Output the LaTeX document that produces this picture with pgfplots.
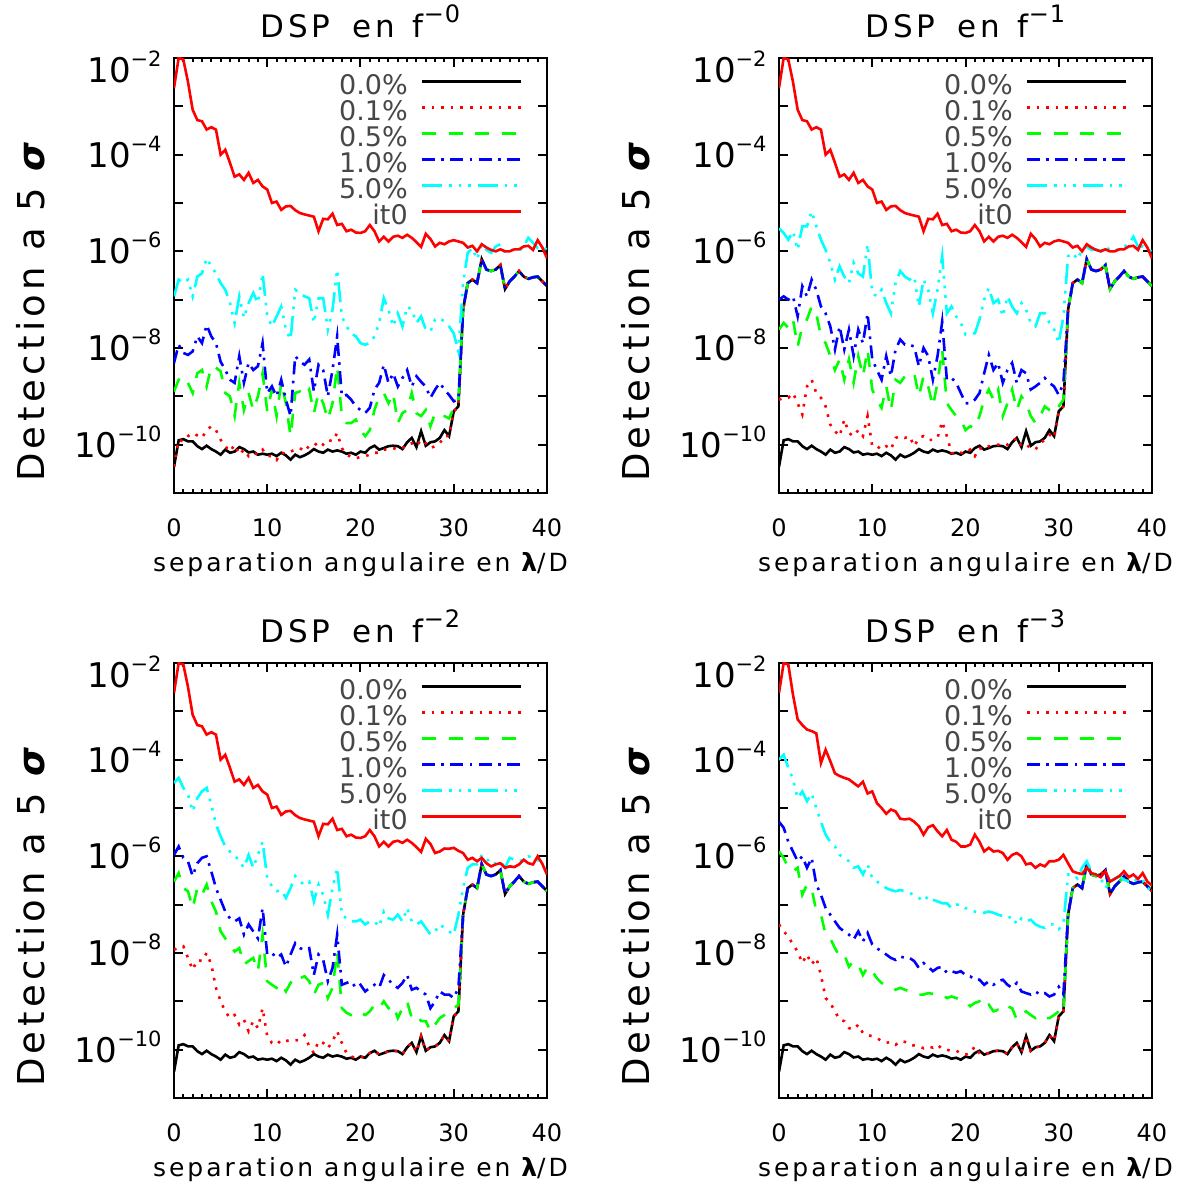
\documentclass[border=0pt]{standalone}
\usepackage{fontspec}
\setmainfont{DejaVu Sans}
\newfontfamily\lblfont{DejaVu Sans}[LetterSpace=12]
\usepackage{pgfplots}
\pgfplotsset{compat=1.18}
\usepackage{pgfplotstable}
\definecolor{idlcyan}{RGB}{0,255,255}
\definecolor{idlgreen}{RGB}{0,255,0}

\newcommand{\ylab}[1]{10\raisebox{8pt}{\fontsize{10.5}{12}\selectfont −#1}}
\newcommand{\dsp}[1]{DSP\hspace{11pt}en\hspace{9pt}f\raisebox{7.5pt}{\fontsize{12}{13}\selectfont −\hspace{0.5pt}#1}}

\pgfplotstableread{
x k r
0 3.5e-11 2.4e-3
0.5 1.23e-10 1.0e-2
1 1.3e-10 9.3e-3
1.5 1.17e-10 3.2e-3
2 1.17e-10 8.5e-4
2.5 9.3e-11 5.2e-4
3 8.1e-11 4.9e-4
3.5 9.5e-11 3.3e-4
4 8.1e-11 3.7e-4
4.5 7.2e-11 3.3e-4
5 6.2e-11 1.0e-4
5.5 7.9e-11 1.26e-4
6 6.8e-11 6.8e-5
6.5 7.2e-11 3.5e-5
7 8.9e-11 3.9e-5
7.5 8.1e-11 3.0e-5
8 6.9e-11 4.2e-5
8.5 7.2e-11 2.6e-5
9 6.2e-11 3.0e-5
9.5 6.5e-11 2.2e-5
10 6.2e-11 1.9e-5
10.5 6.5e-11 1.0e-5
11 5.8e-11 1.07e-5
11.5 6.8e-11 7.2e-6
12 6.0e-11 8.5e-6
12.5 4.9e-11 8.7e-6
13 6.2e-11 7.1e-6
13.5 5.5e-11 6.2e-6
14 6.0e-11 5.8e-6
14.5 6.8e-11 5.5e-6
15 8.1e-11 5.2e-6
15.5 7.2e-11 2.6e-6
16 6.8e-11 4.7e-6
16.5 7.9e-11 4.6e-6
17 7.2e-11 6.0e-6
17.5 7.6e-11 3.5e-6
18 7.2e-11 3.7e-6
18.5 6.5e-11 2.6e-6
19 6.8e-11 2.8e-6
19.5 6.2e-11 2.45e-6
20 7.2e-11 2.4e-6
20.5 6.8e-11 2.6e-6
21 8.5e-11 3.5e-6
21.5 9.5e-11 2.6e-6
22 7.9e-11 1.6e-6
22.5 8.5e-11 2.0e-6
23 9.3e-11 1.6e-6
23.5 9.5e-11 2.0e-6
24 9.3e-11 2.1e-6
24.5 8.1e-11 1.9e-6
25 1.12e-10 2.2e-6
25.5 1.38e-10 1.9e-6
26 8.9e-11 1.55e-6
26.5 1.9e-10 1.23e-6
27 9.5e-11 2.3e-6
27.5 1.12e-10 1.8e-6
28 1.17e-10 1.26e-6
28.5 1.38e-10 1.5e-6
29 2.0e-10 1.4e-6
29.5 1.5e-10 1.6e-6
30 4.9e-10 1.7e-6
30.5 6.2e-10 1.6e-6
31 6.2e-8 1.5e-6
31.5 2.2e-7 1.2e-6
32 2.6e-7 1.3e-6
32.5 2.2e-7 1.0e-6
33 6.9e-7 1.4e-6
33.5 4.2e-7 1.2e-6
34 3.9e-7 1.07e-6
34.5 4.2e-7 1.0e-6
35 5.2e-7 1.1e-6
35.5 1.66e-7 1.0e-6
36 2.4e-7 1.0e-6
36.5 3.0e-7 1.1e-6
37 3.9e-7 1.1e-6
37.5 3.0e-7 1.26e-6
38 2.7e-7 1.3e-6
38.5 2.9e-7 1.07e-6
39 3.0e-7 1.7e-6
39.5 2.4e-7 1.2e-6
40 1.9e-7 7.2e-7
}\tcommon

\pgfplotstableread{
x a b c d
0 3.5e-11 1.26e-9 4.9e-9 1.17e-7
0.5 1.26e-10 2.2e-9 1.17e-8 2.6e-7
1 1.17e-10 2.6e-9 7.9e-9 2.2e-7
1.5 1.5e-10 1.9e-9 7.2e-9 2.6e-7
2 1.74e-10 1.17e-9 8.5e-9 1.17e-7
2.5 1.55e-10 3.0e-9 1.74e-8 3.0e-7
3 1.38e-10 3.5e-9 1.26e-8 3.5e-7
3.5 2.0e-10 1.6e-9 3.0e-8 7.2e-7
4 2.4e-10 4.2e-9 1.74e-8 4.9e-7
4.5 2.0e-10 3.9e-9 1.26e-8 3.5e-7
5 1.26e-10 3.3e-9 5.2e-9 2.2e-7
5.5 9.3e-11 1.17e-9 3.5e-9 1.6e-7
6 7.2e-11 1.0e-9 2.2e-9 8.5e-8
6.5 1.0e-10 3.9e-10 1.9e-9 3.3e-8
7 6.2e-11 1.9e-9 6.8e-9 1.17e-7
7.5 7.9e-11 5.2e-10 1.9e-9 4.2e-8
8 5.8e-11 1.17e-9 4.9e-9 8.5e-8
8.5 6.8e-11 5.2e-10 3.5e-9 1.38e-7
9 6.2e-11 1.0e-9 4.2e-9 8.5e-8
9.5 7.9e-11 3.0e-9 1.26e-8 3.5e-7
10 5.8e-11 4.9e-10 1.17e-9 4.5e-8
10.5 5.8e-11 1.38e-9 1.6e-9 2.8e-8
11 4.8e-11 3.9e-10 1.0e-9 4.5e-8
11.5 6.8e-11 1.9e-9 2.2e-9 7.2e-8
12 6.5e-11 7.2e-10 8.5e-10 2.4e-8
12.5 7.2e-11 1.5e-10 3.9e-10 1.5e-8
13 7.9e-11 1.17e-9 6.8e-9 1.6e-7
13.5 8.5e-11 1.26e-9 5.2e-9 1.38e-7
14 7.2e-11 1.0e-9 4.5e-9 1.17e-7
14.5 9.5e-11 1.38e-9 5.8e-9 1.07e-7
15 9.3e-11 4.5e-10 1.26e-9 3.3e-8
15.5 1.17e-10 1.17e-9 4.5e-9 1.07e-7
16 1.0e-10 7.2e-10 3.5e-9 1.07e-7
16.5 1.26e-10 3.3e-10 1.0e-9 2.4e-8
17 1.17e-10 7.2e-10 3.5e-9 6.2e-8
17.5 1.74e-10 4.2e-9 1.74e-8 4.2e-7
18 8.5e-11 3.9e-10 1.0e-9 4.5e-8
18.5 6.2e-11 2.8e-10 1.07e-9 2.8e-8
19 5.6e-11 2.8e-10 8.5e-10 2.0e-8
19.5 5.2e-11 3.3e-10 6.2e-10 1.74e-8
20 5.6e-11 2.0e-10 5.2e-10 1.26e-8
20.5 5.8e-11 1.5e-10 4.5e-10 1.17e-8
21 6.2e-11 2.0e-10 5.8e-10 1.26e-8
21.5 6.8e-11 5.2e-10 1.38e-9 1.74e-8
22 6.8e-11 1.0e-9 1.9e-9 3.3e-8
22.5 7.9e-11 1.17e-9 4.5e-9 1.07e-7
23 7.9e-11 7.2e-10 1.9e-9 6.2e-8
23.5 8.5e-11 1.17e-9 3.0e-9 2.8e-8
24 7.9e-11 2.8e-10 1.6e-9 5.2e-8
24.5 8.5e-11 4.5e-10 2.4e-9 2.8e-8
25 1.0e-10 5.2e-10 3.5e-9 7.2e-8
25.5 1.07e-10 1.17e-9 1.6e-9 6.2e-8
26 9.3e-11 4.5e-10 2.6e-9 3.3e-8
26.5 1.26e-10 3.9e-10 2.0e-9 4.5e-8
27 1.07e-10 5.2e-10 1.6e-9 2.4e-8
27.5 8.5e-11 2.4e-10 9.3e-10 2.2e-8
28 9.3e-11 4.5e-10 1.38e-9 3.9e-8
28.5 1.07e-10 4.2e-10 1.9e-9 4.2e-8
29 1.5e-10 3.9e-10 1.38e-9 3.5e-8
29.5 1.5e-10 3.5e-10 1.07e-9 2.8e-8
30 4.9e-10 5.8e-10 7.9e-10 2.0e-8
30.5 6.2e-10 7.9e-10 8.5e-10 8.5e-9
31 6.2e-8 6.2e-8 6.2e-8 2.2e-7
31.5 2.2e-7 2.2e-7 2.2e-7 9.3e-7
32 2.6e-7 2.6e-7 2.6e-7 1.17e-6
32.5 2.2e-7 2.2e-7 2.2e-7 6.8e-7
33 6.9e-7 6.9e-7 6.9e-7 1.4e-6
33.5 4.2e-7 4.2e-7 4.2e-7 1.07e-6
34 3.9e-7 3.9e-7 3.9e-7 9.3e-7
34.5 4.2e-7 4.2e-7 4.2e-7 1.26e-6
35 5.2e-7 5.2e-7 5.2e-7 1.4e-6
35.5 1.66e-7 1.66e-7 1.66e-7 9.3e-7
36 2.4e-7 2.4e-7 2.4e-7 1.07e-6
36.5 3.0e-7 3.0e-7 3.0e-7 1.07e-6
37 3.9e-7 3.9e-7 3.9e-7 1.0e-6
37.5 3.0e-7 3.0e-7 3.0e-7 1.26e-6
38 2.7e-7 2.7e-7 2.7e-7 1.9e-6
38.5 2.9e-7 2.9e-7 2.9e-7 1.5e-6
39 3.0e-7 3.0e-7 3.0e-7 1.17e-6
39.5 2.4e-7 2.4e-7 2.4e-7 1.26e-6
40 1.9e-7 1.9e-7 1.9e-7 1.07e-6
}\tpone

\pgfplotstableread{
x a b c d
0 8.5e-10 2.4e-8 1.0e-7 3.0e-6
0.5 9.3e-10 3.3e-8 1.17e-7 2.4e-6
1 9.3e-10 2.6e-8 1.0e-7 1.74e-6
1.5 1.17e-9 3.9e-8 1.17e-7 2.6e-6
2 7.2e-10 1.07e-8 4.5e-8 1.07e-6
2.5 4.2e-10 2.8e-8 1.9e-7 3.3e-6
3 1.6e-9 3.9e-8 1.17e-7 3.3e-6
3.5 2.2e-9 7.2e-8 2.6e-7 6.7e-6
4 1.17e-9 5.2e-8 1.6e-7 3.3e-6
4.5 9.3e-10 1.74e-8 7.2e-8 1.74e-6
5 6.2e-10 1.26e-8 5.2e-8 1.07e-6
5.5 2.6e-10 6.8e-9 2.8e-8 5.8e-7
6 1.9e-10 3.5e-9 9.3e-9 2.6e-7
6.5 1.5e-10 5.8e-9 2.8e-8 4.9e-7
7 3.3e-10 2.2e-9 9.3e-9 3.0e-7
7.5 1.74e-10 5.8e-9 2.4e-8 2.2e-7
8 1.5e-10 1.9e-9 6.8e-9 5.8e-7
8.5 2.0e-10 6.8e-9 2.4e-8 3.5e-7
9 1.5e-10 2.6e-9 1.26e-8 3.0e-7
9.5 3.9e-10 9.3e-9 5.2e-8 1.4e-6
10 9.3e-11 1.38e-9 5.8e-9 1.38e-7
10.5 9.3e-11 8.5e-10 3.5e-9 1.17e-7
11 7.9e-11 5.8e-10 2.2e-9 1.6e-7
11.5 9.3e-11 1.6e-9 6.8e-9 8.5e-8
12 7.9e-11 5.2e-10 2.6e-9 5.2e-8
12.5 1.38e-10 2.2e-9 9.3e-9 2.2e-7
13 1.5e-10 1.9e-9 1.5e-8 3.9e-7
13.5 1.38e-10 2.6e-9 1.17e-8 3.0e-7
14 1.5e-10 3.0e-9 1.17e-8 2.6e-7
14.5 9.3e-11 3.0e-9 1.07e-8 3.0e-7
15 1.38e-10 1.0e-9 4.2e-9 7.2e-8
15.5 1.5e-10 2.6e-9 1.0e-8 2.6e-7
16 1.26e-10 1.6e-9 6.8e-9 1.6e-7
16.5 1.26e-10 6.2e-10 2.2e-9 5.2e-8
17 1.38e-10 1.9e-9 6.8e-9 1.6e-7
17.5 3.0e-10 9.3e-9 3.5e-8 7.9e-7
18 1.5e-10 7.2e-10 2.2e-9 5.2e-8
18.5 6.8e-11 5.2e-10 2.4e-9 7.2e-8
19 6.2e-11 3.9e-10 1.9e-9 4.5e-8
19.5 6.8e-11 3.3e-10 1.17e-9 3.3e-8
20 6.5e-11 2.0e-10 7.2e-10 1.9e-8
20.5 7.9e-11 2.4e-10 7.2e-10 2.0e-8
21 5.8e-11 2.2e-10 8.5e-10 2.0e-8
21.5 8.5e-11 3.9e-10 1.17e-9 3.9e-8
22 7.9e-11 8.5e-10 3.0e-9 1.0e-7
22.5 9.3e-11 1.38e-9 7.2e-9 1.74e-7
23 9.3e-11 8.5e-10 3.5e-9 8.5e-8
23.5 1.0e-10 1.38e-9 4.9e-9 1.0e-7
24 9.3e-11 3.9e-10 1.9e-9 4.5e-8
24.5 1.0e-10 7.2e-10 3.5e-9 1.17e-7
25 1.17e-10 1.38e-9 4.9e-9 7.2e-8
25.5 1.38e-10 5.2e-10 1.9e-9 5.2e-8
26 9.3e-11 1.0e-9 3.5e-9 8.5e-8
26.5 1.0e-10 7.2e-10 3.0e-9 6.2e-8
27 8.5e-11 3.9e-10 1.38e-9 3.3e-8
27.5 7.9e-11 2.8e-10 1.6e-9 2.8e-8
28 1.07e-10 3.9e-10 1.9e-9 5.2e-8
28.5 1.26e-10 6.2e-10 2.4e-9 5.2e-8
29 1.6e-10 5.2e-10 1.9e-9 3.3e-8
29.5 1.38e-10 4.5e-10 1.6e-9 2.4e-8
30 4.9e-10 6.2e-10 1.07e-9 1.26e-8
30.5 6.2e-10 8.5e-10 1.9e-9 4.5e-8
31 6.2e-8 6.2e-8 6.2e-8 7.9e-7
31.5 2.2e-7 2.2e-7 2.2e-7 9.3e-7
32 2.6e-7 2.6e-7 2.6e-7 6.8e-7
32.5 2.2e-7 2.2e-7 2.2e-7 1.07e-6
33 6.9e-7 6.9e-7 6.9e-7 1.26e-6
33.5 4.2e-7 4.2e-7 4.2e-7 1.07e-6
34 3.9e-7 3.9e-7 3.9e-7 1.1e-6
34.5 4.2e-7 4.2e-7 4.2e-7 1.0e-6
35 5.2e-7 5.2e-7 5.2e-7 1.26e-6
35.5 1.66e-7 1.66e-7 1.66e-7 1.07e-6
36 2.4e-7 2.4e-7 2.4e-7 1.0e-6
36.5 3.0e-7 3.0e-7 3.0e-7 1.17e-6
37 3.9e-7 3.9e-7 3.9e-7 1.26e-6
37.5 3.0e-7 3.0e-7 3.0e-7 1.4e-6
38 2.7e-7 2.7e-7 2.7e-7 2.0e-6
38.5 2.9e-7 2.9e-7 2.9e-7 1.26e-6
39 3.0e-7 3.0e-7 3.0e-7 1.26e-6
39.5 2.4e-7 2.4e-7 2.4e-7 1.07e-6
40 1.9e-7 1.9e-7 1.9e-7 1.0e-6
}\tptwo

\pgfplotstableread{
x a b c d e
0 1.17e-8 3.0e-7 1.07e-6 3.3e-5 2.4e-3
0.5 1.26e-8 4.5e-7 1.6e-6 4.2e-5 1.0e-2
1 1.38e-8 2.2e-7 9.3e-7 2.6e-5 9.3e-3
1.5 7.9e-9 1.9e-7 7.9e-7 1.9e-5 3.2e-3
2 4.5e-9 8.5e-8 3.9e-7 8.5e-6 8.5e-4
2.5 7.2e-9 2.2e-7 7.2e-7 1.6e-5 5.2e-4
3 6.8e-9 1.6e-7 9.3e-7 2.2e-5 4.9e-4
3.5 1.0e-8 2.6e-7 1.0e-6 2.6e-5 3.3e-4
4 5.8e-9 1.17e-7 4.9e-7 1.17e-5 3.7e-4
4.5 1.9e-9 7.2e-8 2.2e-7 4.6e-6 3.3e-4
5 1.0e-9 2.8e-8 1.26e-7 2.6e-6 1.0e-4
5.5 6.2e-10 2.0e-8 7.2e-8 1.6e-6 1.26e-4
6 4.5e-10 1.5e-8 5.2e-8 1.26e-6 6.8e-5
6.5 5.2e-10 1.07e-8 4.5e-8 1.07e-6 3.5e-5
7 3.3e-10 1.26e-8 5.2e-8 7.9e-7 3.9e-5
7.5 4.2e-10 5.8e-9 2.4e-8 5.8e-7 3.0e-5
8 2.4e-10 6.8e-9 3.9e-8 1.07e-6 4.2e-5
8.5 3.9e-10 7.9e-9 2.8e-8 5.8e-7 2.6e-5
9 2.8e-10 4.2e-9 2.0e-8 1.07e-6 3.0e-5
9.5 7.2e-10 2.4e-8 8.5e-8 2.0e-6 2.2e-5
10 1.9e-10 2.6e-9 9.3e-9 3.5e-7 1.9e-5
10.5 1.38e-10 2.2e-9 1.0e-8 2.4e-7 1.0e-5
11 1.26e-10 1.9e-9 7.9e-9 1.9e-7 1.07e-5
11.5 1.6e-10 2.4e-9 9.3e-9 2.0e-7 7.2e-6
12 1.5e-10 1.6e-9 5.2e-9 1.38e-7 8.5e-6
12.5 1.6e-10 2.4e-9 9.3e-9 2.2e-7 8.7e-6
13 1.55e-10 3.3e-9 1.6e-8 3.9e-7 7.1e-6
13.5 1.6e-10 3.0e-9 1.26e-8 3.0e-7 6.2e-6
14 2.0e-10 3.3e-9 1.17e-8 2.6e-7 5.8e-6
14.5 1.17e-10 2.6e-9 1.26e-8 3.0e-7 5.5e-6
15 8.5e-11 1.38e-9 3.5e-9 1.17e-7 5.2e-6
15.5 1.5e-10 2.2e-9 9.3e-9 2.6e-7 2.6e-6
16 1.38e-10 2.4e-9 7.2e-9 1.6e-7 4.7e-6
16.5 1.07e-10 1.17e-9 2.6e-9 6.2e-8 4.6e-6
17 1.5e-10 1.9e-9 4.9e-9 2.2e-7 6.0e-6
17.5 2.4e-10 1.07e-8 2.4e-8 5.8e-7 3.5e-6
18 1.38e-10 7.2e-10 2.2e-9 6.2e-8 3.7e-6
18.5 8.5e-11 5.8e-10 2.4e-9 5.2e-8 2.6e-6
19 7.2e-11 5.2e-10 2.6e-9 4.5e-8 2.8e-6
19.5 6.8e-11 4.9e-10 1.9e-9 4.5e-8 2.45e-6
20 7.2e-11 5.8e-10 2.2e-9 4.9e-8 2.4e-6
20.5 6.8e-11 5.2e-10 1.6e-9 3.9e-8 2.6e-6
21 8.5e-11 6.2e-10 1.9e-9 4.5e-8 3.5e-6
21.5 9.5e-11 8.5e-10 2.2e-9 4.5e-8 2.6e-6
22 7.9e-11 7.2e-10 1.9e-9 3.5e-8 1.6e-6
22.5 8.5e-11 1.0e-9 3.5e-9 7.2e-8 2.0e-6
23 9.3e-11 7.2e-10 2.8e-9 5.2e-8 1.6e-6
23.5 9.5e-11 8.5e-10 2.2e-9 4.9e-8 2.0e-6
24 9.3e-11 4.5e-10 1.9e-9 6.2e-8 2.1e-6
24.5 8.1e-11 7.2e-10 2.4e-9 4.5e-8 1.9e-6
25 1.12e-10 1.0e-9 3.5e-9 8.5e-8 2.2e-6
25.5 1.38e-10 4.5e-10 1.74e-9 4.5e-8 1.9e-6
26 8.9e-11 5.2e-10 1.9e-9 3.9e-8 1.55e-6
26.5 1.9e-10 3.9e-10 1.6e-9 4.5e-8 1.23e-6
27 9.5e-11 3.9e-10 1.38e-9 3.3e-8 2.3e-6
27.5 1.12e-10 2.4e-10 7.2e-10 2.4e-8 1.8e-6
28 1.17e-10 3.3e-10 1.0e-9 2.8e-8 1.17e-6
28.5 1.38e-10 4.5e-10 1.6e-9 3.9e-8 1.26e-6
29 2.0e-10 5.2e-10 1.38e-9 3.3e-8 1.45e-6
29.5 1.5e-10 6.2e-10 1.38e-9 2.8e-8 1.43e-6
30 4.9e-10 7.2e-10 1.17e-9 2.4e-8 1.5e-6
30.5 6.2e-10 8.5e-10 1.9e-9 6.2e-8 1.3e-6
31 6.2e-8 6.2e-8 6.2e-8 2.2e-7 1.17e-6
31.5 2.2e-7 2.2e-7 2.2e-7 5.8e-7 8.5e-7
32 2.6e-7 2.6e-7 2.6e-7 6.8e-7 9.3e-7
32.5 2.2e-7 2.2e-7 2.2e-7 6.8e-7 7.9e-7
33 6.9e-7 6.9e-7 6.9e-7 1.07e-6 9.3e-7
33.5 4.2e-7 4.2e-7 4.2e-7 9.3e-7 7.2e-7
34 3.9e-7 3.9e-7 3.9e-7 6.8e-7 6.2e-7
34.5 4.2e-7 4.2e-7 4.2e-7 7.2e-7 6.8e-7
35 5.2e-7 5.2e-7 5.2e-7 7.9e-7 7.2e-7
35.5 1.66e-7 1.66e-7 1.66e-7 5.8e-7 5.8e-7
36 2.4e-7 2.4e-7 2.4e-7 9.3e-7 6.2e-7
36.5 3.0e-7 3.0e-7 3.0e-7 8.5e-7 6.0e-7
37 3.9e-7 3.9e-7 3.9e-7 7.9e-7 6.8e-7
37.5 3.0e-7 3.0e-7 3.0e-7 8.5e-7 8.5e-7
38 2.7e-7 2.7e-7 2.7e-7 1.0e-6 7.2e-7
38.5 2.9e-7 2.9e-7 2.9e-7 9.3e-7 6.8e-7
39 3.0e-7 3.0e-7 3.0e-7 8.5e-7 1.0e-6
39.5 2.4e-7 2.4e-7 2.4e-7 6.8e-7 7.0e-7
40 1.9e-7 1.9e-7 1.9e-7 4.5e-7 4.2e-7
}\tpthree

\pgfplotstableread{
x a b c d e
0 3.9e-8 1.26e-6 5.2e-6 1.0e-4 2.4e-3
0.5 2.8e-8 9.3e-7 3.9e-6 1.26e-4 1.0e-2
1 2.2e-8 5.8e-7 2.0e-6 6.8e-5 9.3e-3
1.5 1.5e-8 4.9e-7 1.26e-6 3.9e-5 2.2e-3
2 1.07e-8 5.8e-7 7.9e-7 1.6e-5 6.8e-4
2.5 6.2e-9 1.6e-7 1.0e-6 2.2e-5 5.2e-4
3 9.3e-9 2.6e-7 5.8e-7 1.38e-5 4.2e-4
3.5 5.8e-9 2.2e-7 9.3e-7 2.0e-5 3.9e-4
4 7.9e-9 7.2e-8 2.6e-7 1.0e-5 3.5e-4
4.5 3.5e-9 6.2e-8 1.6e-7 5.2e-6 8.5e-5
5 1.17e-9 2.4e-8 8.5e-8 2.8e-6 1.6e-4
5.5 9.3e-10 2.0e-8 6.2e-8 2.0e-6 9.3e-5
6 6.2e-10 1.26e-8 4.5e-8 1.6e-6 5.2e-5
6.5 4.2e-10 8.5e-9 3.3e-8 1.07e-6 4.6e-5
7 3.9e-10 9.3e-9 2.8e-8 9.3e-7 4.2e-5
7.5 2.8e-10 5.2e-9 2.4e-8 7.9e-7 3.9e-5
8 2.6e-10 6.8e-9 1.9e-8 5.8e-7 3.3e-5
8.5 3.3e-10 5.8e-9 2.8e-8 6.2e-7 2.8e-5
9 2.2e-10 3.5e-9 1.74e-8 4.2e-7 3.5e-5
9.5 2.0e-10 5.2e-9 2.6e-8 6.8e-7 2.0e-5
10 1.9e-10 4.2e-9 1.5e-8 3.5e-7 2.2e-5
10.5 1.74e-10 3.0e-9 1.26e-8 3.0e-7 1.26e-5
11 1.5e-10 2.4e-9 1.07e-8 2.6e-7 1.0e-5
11.5 1.38e-10 2.2e-9 9.3e-9 2.2e-7 7.6e-6
12 1.45e-10 1.9e-9 7.9e-9 2.0e-7 9.3e-6
12.5 1.26e-10 1.74e-9 7.2e-9 1.9e-7 8.5e-6
13 1.5e-10 1.9e-9 8.5e-9 2.0e-7 6.0e-6
13.5 1.45e-10 1.74e-9 7.9e-9 1.9e-7 5.8e-6
14 1.26e-10 1.6e-9 7.9e-9 1.74e-7 6.0e-6
14.5 1.22e-10 1.48e-9 6.8e-9 1.6e-7 5.2e-6
15 1.17e-10 1.38e-9 4.9e-9 1.38e-7 4.2e-6
15.5 1.07e-10 1.38e-9 6.2e-9 1.17e-7 2.8e-6
16 1.17e-10 1.48e-9 5.2e-9 1.5e-7 4.0e-6
16.5 1.1e-10 1.43e-9 4.2e-9 1.26e-7 4.4e-6
17 1.26e-10 1.38e-9 4.9e-9 1.17e-7 3.3e-6
17.5 1.03e-10 1.38e-9 5.2e-9 1.07e-7 2.6e-6
18 1.0e-10 1.17e-9 3.9e-9 1.07e-7 3.5e-6
18.5 9.3e-11 1.26e-9 4.2e-9 8.5e-8 2.2e-6
19 9.5e-11 1.17e-9 3.9e-9 1.0e-7 2.0e-6
19.5 8.5e-11 1.07e-9 4.2e-9 1.0e-7 1.6e-6
20 7.9e-11 1.0e-9 3.5e-9 8.5e-8 1.6e-6
20.5 8.5e-11 7.9e-10 3.3e-9 7.9e-8 1.74e-6
21 1.17e-10 9.3e-10 2.8e-9 7.2e-8 2.8e-6
21.5 8.5e-11 1.0e-9 2.8e-9 6.8e-8 2.0e-6
22 7.9e-11 7.2e-10 2.2e-9 6.8e-8 1.26e-6
22.5 8.5e-11 8.5e-10 2.6e-9 7.2e-8 1.5e-6
23 9.3e-11 6.2e-10 2.2e-9 6.8e-8 1.26e-6
23.5 9.5e-11 6.7e-10 2.6e-9 6.2e-8 1.3e-6
24 9.3e-11 6.2e-10 2.8e-9 5.8e-8 1.17e-6
24.5 8.1e-11 7.9e-10 2.2e-9 5.2e-8 8.5e-7
25 1.12e-10 7.2e-10 1.9e-9 5.8e-8 1.07e-6
25.5 1.38e-10 4.2e-10 2.4e-9 3.9e-8 1.17e-6
26 8.9e-11 5.2e-10 1.6e-9 5.2e-8 1.0e-6
26.5 1.9e-10 6.2e-10 1.48e-9 4.5e-8 6.8e-7
27 9.5e-11 5.2e-10 1.38e-9 4.9e-8 7.2e-7
27.5 1.12e-10 4.5e-10 1.6e-9 3.9e-8 5.8e-7
28 1.17e-10 5.2e-10 1.38e-9 3.5e-8 6.8e-7
28.5 1.38e-10 4.5e-10 1.48e-9 3.3e-8 6.2e-7
29 2.0e-10 4.5e-10 1.26e-9 3.9e-8 7.9e-7
29.5 1.5e-10 5.2e-10 1.38e-9 3.9e-8 7.9e-7
30 4.9e-10 6.2e-10 2.0e-9 3.1e-8 8.5e-7
30.5 6.2e-10 5.5e-10 1.4e-9 4.0e-8 1.07e-6
31 6.2e-8 6.2e-8 6.2e-8 4.2e-7 7.2e-7
31.5 2.2e-7 2.2e-7 2.2e-7 4.2e-7 4.9e-7
32 2.6e-7 2.6e-7 2.6e-7 3.5e-7 4.5e-7
32.5 2.2e-7 2.2e-7 2.2e-7 5.8e-7 4.3e-7
33 6.9e-7 6.9e-7 6.9e-7 7.9e-7 5.8e-7
33.5 4.2e-7 4.2e-7 4.2e-7 4.9e-7 4.5e-7
34 3.9e-7 3.9e-7 3.9e-7 4.2e-7 4.2e-7
34.5 4.2e-7 4.2e-7 4.2e-7 3.5e-7 3.7e-7
35 5.2e-7 5.2e-7 5.2e-7 2.2e-7 4.9e-7
35.5 1.66e-7 1.66e-7 1.66e-7 3.0e-7 3.0e-7
36 2.4e-7 2.4e-7 2.4e-7 3.5e-7 3.4e-7
36.5 3.0e-7 3.0e-7 3.0e-7 3.9e-7 3.9e-7
37 3.9e-7 3.9e-7 3.9e-7 3.3e-7 4.9e-7
37.5 3.0e-7 3.0e-7 3.0e-7 3.0e-7 3.7e-7
38 2.7e-7 2.7e-7 2.7e-7 3.5e-7 4.2e-7
38.5 2.9e-7 2.9e-7 2.9e-7 3.0e-7 3.4e-7
39 3.0e-7 3.0e-7 3.0e-7 3.3e-7 4.5e-7
39.5 2.4e-7 2.4e-7 2.4e-7 2.2e-7 3.0e-7
40 1.9e-7 1.9e-7 1.9e-7 2.0e-7 2.5e-7
}\tpfour

\pgfplotsset{
  legend image code/.code={\draw[#1] (0pt,3.5pt) -- (49.5pt,3.5pt);},
  panel/.style={
    scale only axis, width=186.5pt, height=217.5pt,
    xmin=0, xmax=40, ymin=1e-11, ymax=1e-2,
    xtick={0,10,20,30,40}, xticklabels={0,10,20,30,40},
    minor x tick num=9,
    ytick={1e-11,1e-10,1e-9,1e-8,1e-7,1e-6,1e-5,1e-4,1e-3,1e-2},
    yticklabels={,\ylab{10},,\ylab{8},,\ylab{6},,\ylab{4},,\raisebox{-6pt}{\ylab{2}}},
    yminorticks=false,
    axis line style={line width=1pt},
    major tick length=4.5pt, minor tick length=2pt,
    major tick style={black, line width=1pt},
    minor tick style={black, line width=1pt},
    xticklabel style={font=\fontsize{12}{14}\selectfont, anchor=base, inner sep=0pt, yshift=-22pt},
    yticklabel style={font=\fontsize{17}{20}\selectfont, anchor=base east, inner sep=0pt, xshift=-6pt, yshift=-6.25pt},
    every axis title/.style={at={(axis description cs:0.5,1)}, anchor=base, yshift=10pt, font=\lblfont\fontsize{15.5}{18}\selectfont},
    every axis x label/.style={at={(axis description cs:0.5,0)}, anchor=base, yshift=-39.5pt, font=\lblfont\fontsize{12.5}{15}\selectfont},
    every axis y label/.style={at={(axis description cs:-0.346,0.415)}, anchor=base, rotate=90, font=\lblfont\fontsize{18.5}{21}\selectfont},
    xlabel={separation angulaire en {\bfseries λ}/D},
    ylabel={Detection a 5 {\bfseries\itshape σ}},
    legend plot pos=right, legend cell align=right,
    legend style={draw=none, fill=none, inner sep=0pt, at={(axis description cs:0.935,0.96)}, anchor=north east, font=\fontsize{13.5}{16}\selectfont, text=black!72, row sep=0pt, column sep=6.5pt, nodes={inner sep=0pt, text height=9.5pt, text depth=3.5pt}},
  },
  s0/.style={black, line width=1.3pt},
  s1/.style={red, line width=1.3pt, dash pattern=on 1.3pt off 3.5pt},
  s5/.style={idlgreen, line width=1.3pt, dash pattern=on 7pt off 6.3pt},
  s10/.style={blue, line width=1.3pt, dash pattern=on 6.5pt off 3.2pt on 1.3pt off 3.2pt},
  s50/.style={idlcyan, line width=1.3pt, dash pattern=on 10pt off 3.5pt on 1.3pt off 3.5pt on 1.3pt off 3.5pt on 1.3pt off 3.5pt},
  sit/.style={red, line width=1.3pt},
}

\begin{document}
\begin{tikzpicture}
\useasboundingbox (0,0) rectangle (595pt,593.5pt);

\begin{axis}[ymode=log, panel, at={(87pt,347pt)}, anchor=south west, title={\dsp{0}}]
\addplot[s0] table[x=x,y=k]{\tcommon};
\addplot[s1] table[x=x,y=a]{\tpone};
\addplot[s5] table[x=x,y=b]{\tpone};
\addplot[s10] table[x=x,y=c]{\tpone};
\addplot[s50] table[x=x,y=d]{\tpone};
\addplot[sit] table[x=x,y=r]{\tcommon};
\legend{0.0\%,0.1\%,0.5\%,1.0\%,5.0\%,it0}
\end{axis}

\begin{axis}[ymode=log, panel, at={(389.5pt,347pt)}, anchor=south west, title={\dsp{1}}]
\addplot[s0] table[x=x,y=k]{\tcommon};
\addplot[s1] table[x=x,y=a]{\tptwo};
\addplot[s5] table[x=x,y=b]{\tptwo};
\addplot[s10] table[x=x,y=c]{\tptwo};
\addplot[s50] table[x=x,y=d]{\tptwo};
\addplot[sit] table[x=x,y=r]{\tcommon};
\legend{0.0\%,0.1\%,0.5\%,1.0\%,5.0\%,it0}
\end{axis}

\begin{axis}[ymode=log, panel, at={(87pt,44.5pt)}, anchor=south west, title={\dsp{2}}]
\addplot[s0] table[x=x,y=k]{\tcommon};
\addplot[s1] table[x=x,y=a]{\tpthree};
\addplot[s5] table[x=x,y=b]{\tpthree};
\addplot[s10] table[x=x,y=c]{\tpthree};
\addplot[s50] table[x=x,y=d]{\tpthree};
\addplot[sit] table[x=x,y=e]{\tpthree};
\legend{0.0\%,0.1\%,0.5\%,1.0\%,5.0\%,it0}
\end{axis}

\begin{axis}[ymode=log, panel, at={(389.5pt,44.5pt)}, anchor=south west, title={\dsp{3}}]
\addplot[s0] table[x=x,y=k]{\tcommon};
\addplot[s1] table[x=x,y=a]{\tpfour};
\addplot[s5] table[x=x,y=b]{\tpfour};
\addplot[s10] table[x=x,y=c]{\tpfour};
\addplot[s50] table[x=x,y=d]{\tpfour};
\addplot[sit] table[x=x,y=e]{\tpfour};
\legend{0.0\%,0.1\%,0.5\%,1.0\%,5.0\%,it0}
\end{axis}
\end{tikzpicture}
\end{document}
